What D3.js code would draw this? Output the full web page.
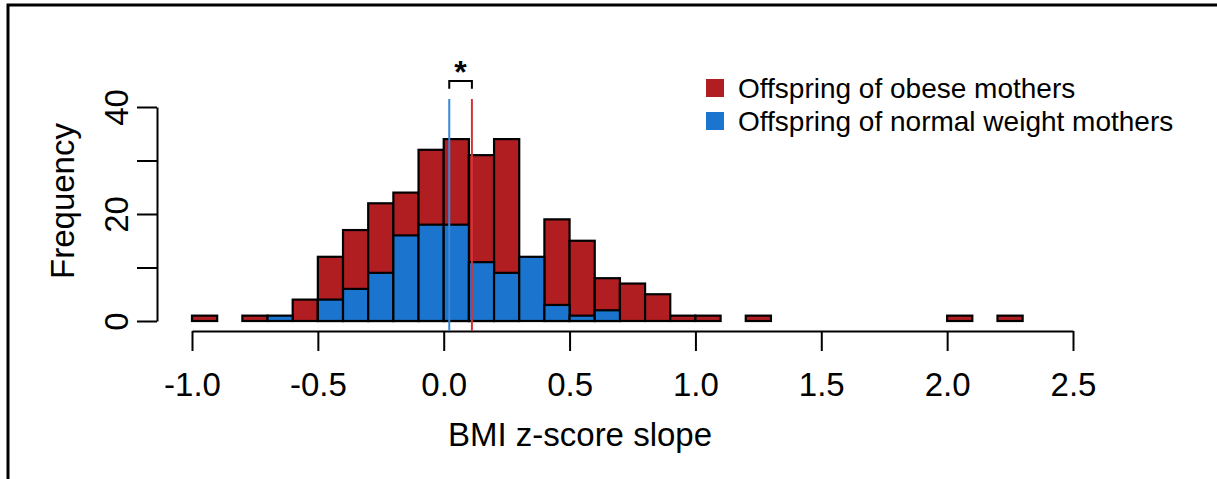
<!DOCTYPE html>
<html>
<head>
<meta charset="utf-8">
<script src="https://cdn.jsdelivr.net/npm/d3@7"></script>
<style>
  html, body { margin: 0; padding: 0; background: #fff; }
  svg { display: block; }
  text { font-family: "Liberation Sans", Arial, Helvetica, sans-serif; fill: #000; }
</style>
</head>
<body>
<svg width="1217" height="479"></svg>
<script>
// bin left edges (width 0.1) of the BMI z-score slope histogram
var binStarts = [-1.0, -0.9, -0.8, -0.7, -0.6, -0.5, -0.4, -0.3, -0.2, -0.1,
                 0.0, 0.1, 0.2, 0.3, 0.4, 0.5, 0.6, 0.7, 0.8, 0.9,
                 1.0, 1.1, 1.2, 1.3, 1.4, 1.5, 1.6, 1.7, 1.8, 1.9,
                 2.0, 2.1, 2.2];
var binWidth = 0.1;

// counts per bin
var obeseCounts  = [1, 0, 1, 0, 4, 12, 17, 22, 24, 32,
                    34, 31, 34, 0, 19, 15, 8, 7, 5, 1,
                    1, 0, 1, 0, 0, 0, 0, 0, 0, 0,
                    1, 0, 1];
var normalCounts = [0, 0, 0, 1, 0, 4, 6, 9, 16, 18,
                    18, 11, 9, 12, 3, 1, 2, 0, 0, 0,
                    0, 0, 0, 0, 0, 0, 0, 0, 0, 0,
                    0, 0, 0];

// group means
var meanNormal = 0.022;
var meanObese = 0.112;

var xTicks = [-1.0, -0.5, 0.0, 0.5, 1.0, 1.5, 2.0, 2.5];
var yTicks = [0, 10, 20, 30, 40];
var yLabels = [0, 20, 40];

var legendItems = ["Offspring of obese mothers", "Offspring of normal weight mothers"];

var red = "#b11e22", blue = "#1b75cf";

var svg = d3.select("svg");

// outer frame
svg.append("rect")
    .attr("x", 8).attr("y", 5)
    .attr("width", 1400).attr("height", 600)
    .attr("fill", "none")
    .attr("stroke", "#000")
    .attr("stroke-width", 3);

var x = d3.scaleLinear().domain([-1.0, 2.5]).range([192, 1073]);
var y = d3.scaleLinear().domain([0, 40]).range([321, 107]);

function drawBars(counts, color) {
  svg.append("g").selectAll("rect")
    .data(binStarts)
    .enter().append("rect")
    .attr("x", function(d) { return x(d); })
    .attr("width", function(d) { return x(d + binWidth) - x(d); })
    .attr("y", function(d, i) { return y(counts[i]); })
    .attr("height", function(d, i) { return y(0) - y(counts[i]); })
    .attr("fill", color)
    .attr("stroke", "#000")
    .attr("stroke-width", 2.2);
}

drawBars(obeseCounts, red);
drawBars(normalCounts, blue);

// x axis (R style, detached below the bars)
var xAxisY = 331;
var xAxis = svg.append("g")
    .attr("transform", "translate(0," + xAxisY + ")")
    .call(d3.axisBottom(x).tickValues(xTicks).tickSize(20).tickSizeOuter(0)
      .tickFormat(function(d) { return d.toFixed(1); }));
xAxis.select(".domain").attr("stroke-width", 2);
xAxis.selectAll(".tick line").attr("stroke-width", 2);
xAxis.selectAll(".tick text")
    .attr("y", 0).attr("dy", null)
    .attr("transform", "translate(0,65)")
    .style("font-size", "33px");

// y axis
var yAxis = svg.append("g")
    .attr("transform", "translate(157,0)")
    .call(d3.axisLeft(y).tickValues(yTicks).tickSize(20).tickSizeOuter(0)
      .tickFormat(function(d) { return yLabels.indexOf(d) >= 0 ? d : ""; }));
yAxis.select(".domain").attr("stroke-width", 2);
yAxis.selectAll(".tick line").attr("stroke-width", 2);
yAxis.selectAll(".tick text")
    .attr("x", 0).attr("y", 0).attr("dy", null)
    .attr("text-anchor", "middle")
    .attr("transform", "translate(-29,0) rotate(-90)")
    .style("font-size", "33px");
svg.selectAll(".domain").attr("stroke", "#000");

// axis titles
svg.append("text")
    .attr("x", 580).attr("y", 446)
    .attr("text-anchor", "middle")
    .style("font-size", "33px")
    .text("BMI z-score slope");

svg.append("text")
    .attr("transform", "translate(74,201) rotate(-90)")
    .attr("text-anchor", "middle")
    .style("font-size", "33px")
    .text("Frequency");

// mean lines
svg.append("line")
    .attr("x1", x(meanNormal)).attr("x2", x(meanNormal))
    .attr("y1", y(41.5)).attr("y2", xAxisY)
    .attr("stroke", "#3a87d9").attr("stroke-width", 2);
svg.append("line")
    .attr("x1", x(meanObese)).attr("x2", x(meanObese))
    .attr("y1", y(41.5)).attr("y2", xAxisY)
    .attr("stroke", "#d0343a").attr("stroke-width", 2);

// significance bracket
svg.append("path")
    .attr("d", "M" + x(meanNormal) + "," + y(43.4) +
               "V" + y(44.85) + "H" + x(meanObese) + "V" + y(43.4))
    .attr("fill", "none")
    .attr("stroke", "#000")
    .attr("stroke-width", 2);
svg.append("text")
    .attr("x", x((meanNormal + meanObese) / 2)).attr("y", 83)
    .attr("text-anchor", "middle")
    .style("font-size", "32px")
    .style("font-weight", "bold")
    .text("*");

// legend
var legend = svg.append("g").attr("transform", "translate(706,0)");
legendItems.forEach(function(name, i) {
  var cy = 88 + i * 33;
  legend.append("rect")
      .attr("x", 0).attr("y", cy - 9)
      .attr("width", 18).attr("height", 18)
      .attr("fill", i === 0 ? red : blue);
  legend.append("text")
      .attr("x", 32).attr("y", cy)
      .attr("dy", "0.36em")
      .style("font-size", "28px")
      .text(name);
});
</script>
</body>
</html>
